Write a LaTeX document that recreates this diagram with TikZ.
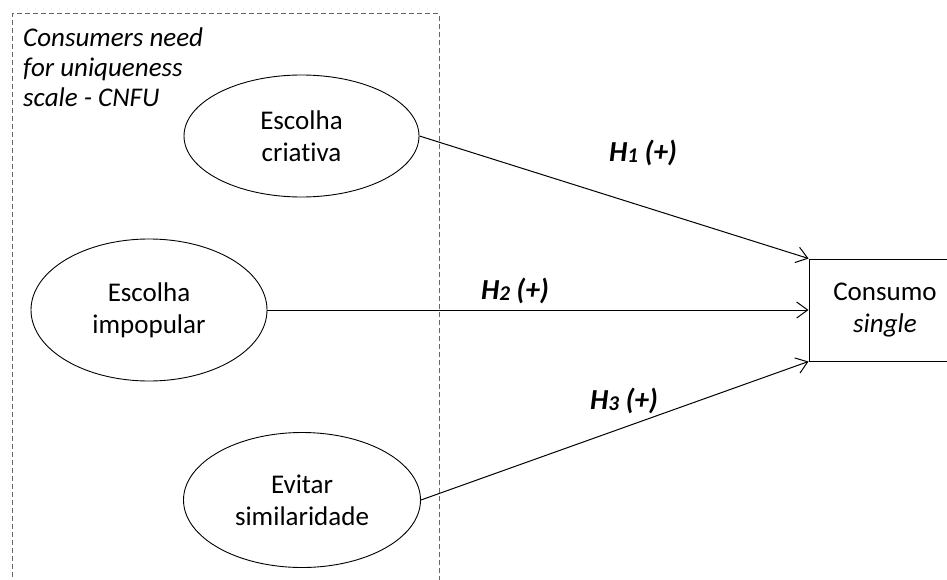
\documentclass[tikz,border=0pt]{standalone}
\usepackage{fontspec}
\setmainfont{Carlito}[Ligatures=NoCommon]
\usetikzlibrary{arrows.meta,shapes.geometric}
\begin{document}
\begin{tikzpicture}[x=1pt,y=-1pt,
  ell/.style={draw, ellipse, line width=0.9pt, inner sep=0pt, align=center,
    font=\fontsize{27}{32}\selectfont},
  conn/.style={line width=1pt, -{Straight Barb[length=11pt,width=16pt,line width=1pt]}},
  hlab/.style={font=\fontsize{29}{29}\selectfont\bfseries\itshape, inner sep=0pt}]
\useasboundingbox (0,0) rectangle (947,580);
% dashed group frame
\draw[gray!80!black, line width=1pt, dash pattern=on 5pt off 3pt] (12,585) -- (12,14) -- (439,14) -- (439,585);
\node[anchor=north west, inner sep=0pt, align=left, font=\fontsize{27}{30}\selectfont\itshape] (title) at (23,28)
  {Consumers need\\for uniqueness\\scale - CNFU};
% latent constructs
\node[ell, minimum width=235pt, minimum height=122pt] (e1) at (301.5,136) {Escolha\\criativa};
\node[ell, minimum width=236pt, minimum height=142pt] (e2) at (149,310) {Escolha\\impopular};
\node[ell, minimum width=237pt, minimum height=135pt] (e3) at (302,500) {Evitar\\similaridade};
% outcome
\node[draw, line width=1pt, minimum width=152pt, minimum height=102pt, align=center,
  font=\fontsize{27}{32}\selectfont] (cs) at (885,310) {Consumo\\\textit{single}};
% paths
\draw[conn] (e1.east) -- (cs.north west);
\draw[conn] (e2.east) -- (cs.west);
\draw[conn] (e3.east) -- (cs.south west);
% labels
\node[hlab] (h1) at (643,153) {H\raisebox{-1pt}{\fontsize{21}{21}\selectfont 1} (+)};
\node[hlab] (h2) at (515,291) {H\raisebox{-1pt}{\fontsize{21}{21}\selectfont 2} (+)};
\node[hlab] (h3) at (624,401) {H\raisebox{-1pt}{\fontsize{21}{21}\selectfont 3} (+)};
\end{tikzpicture}
\end{document}
